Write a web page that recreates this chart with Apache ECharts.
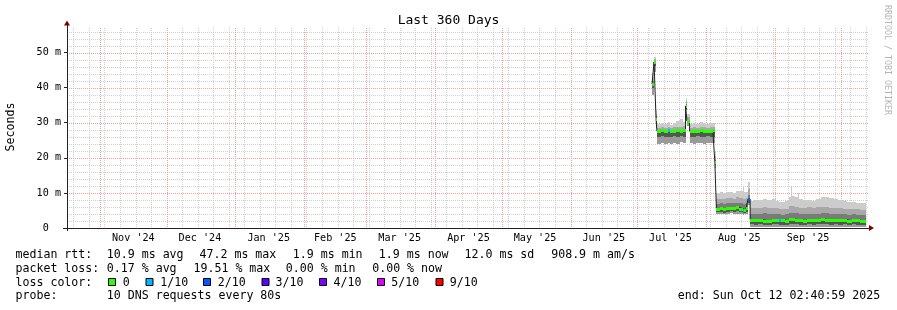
<!DOCTYPE html>
<html><head><meta charset="utf-8">
<script src="https://cdn.jsdelivr.net/npm/echarts@6/dist/echarts.min.js"></script>
<style>html,body{margin:0;padding:0;background:#fff}#c{width:897px;height:310px}</style>
</head><body><div id="c"></div>
<script>
const DAY = 86400000;
const START = Date.UTC(2024, 9, 17, 2, 40, 59);
const END = Date.UTC(2025, 9, 12, 2, 40, 59);
const SPAN = (END - START) / DAY; // 360 days
const YMAX = 57;

const monthStarts = ['2024-11-01','2024-12-01','2025-01-01','2025-02-01','2025-03-01','2025-04-01','2025-05-01','2025-06-01','2025-07-01','2025-08-01','2025-09-01','2025-10-01'];
const monthLabelDates = ['2024-11-16','2024-12-16','2025-01-16','2025-02-15','2025-03-16','2025-04-16','2025-05-16','2025-06-16','2025-07-16','2025-08-16','2025-09-16'];
const monthLabels = ["Nov '24","Dec '24","Jan '25","Feb '25","Mar '25","Apr '25","May '25","Jun '25","Jul '25","Aug '25","Sep '25"];
const firstSunday = '2024-10-20';
const yMajor = [10, 20, 30, 40, 50];

// sample start (days after START)
const sampleDay = [263.6,264.5,265.4,265.8,267.5,269.0,270.9,271.6,273.0,274.5,276.0,277.5,278.7,279.3,280.5,282.0,283.5,285.0,286.5,288.0,289.5,291.0,291.9,292.6,294.0,295.5,297.0,298.5,300.0,301.5,303.0,304.4,305.2,306.0,306.8,307.8,309.5,311.5,313.5,315.5,317.5,319.5,320.6,321.5,323.5,325.5,326.1,326.6,328.0,329.2,329.7,331.5,333.5,335.5,337.5,339.5,341.5,343.5,345.5,347.5,349.5,351.5,353.5,355.5,357.5,359.0];
// median rtt (ms)
const medianRtt = [41.0,47.3,31.2,27.6,27.8,27.7,28.0,27.6,27.7,27.8,27.6,27.9,34.8,30.5,27.6,27.7,27.6,27.8,27.7,27.6,27.7,27.8,18.8,5.4,5.6,5.3,5.7,5.8,5.6,5.9,5.5,5.0,5.1,5.7,8.2,2.4,2.2,2.3,2.1,2.0,2.4,2.3,2.2,2.2,2.1,2.6,2.6,2.5,2.4,2.3,2.2,2.1,2.3,2.2,2.4,2.5,2.3,2.2,2.4,2.2,2.3,2.1,2.3,2.2,2.0,1.9];
// loss level index (0 -> 0, 1 -> 1/10, 2 -> 2/10 ...)
const lossLevel = [0,0,0,0,0,0,1,0,0,0,0,0,0,0,0,0,0,0,0,0,0,0,0,0,0,0,0,0,0,0,0,1,0,0,2,0,0,0,0,0,0,0,1,0,0,0,0,0,0,0,0,0,0,0,0,0,0,0,0,0,0,0,0,0,0,0];
// smoke levels (ms)
const smokeLo  = [37.8,44.5,28.5,24.0,24.2,23.9,24.1,24.0,24.3,24.0,24.4,24.2,33.5,29.0,24.1,24.0,24.2,24.1,24.0,24.3,24.1,24.2,17.0,3.9,4.0,3.9,4.1,4.2,4.0,4.1,4.0,3.8,3.9,4.1,6.5,0.4,0.3,0.3,0.3,0.2,0.3,0.3,0.3,0.3,0.3,0.4,0.4,0.4,0.3,0.3,0.3,0.3,0.3,0.3,0.3,0.4,0.3,0.3,0.3,0.3,0.3,0.3,0.3,0.3,0.2,0.2];
const smokeLo2 = [39.8,46.2,30.0,26.0,26.1,25.9,26.0,25.8,26.1,26.0,26.2,26.0,34.0,29.8,26.0,25.9,26.1,26.0,25.9,26.1,26.0,26.0,18.0,4.5,4.6,4.4,4.7,4.8,4.6,4.8,4.5,4.3,4.4,4.7,7.2,1.0,0.9,1.0,0.9,0.8,1.0,1.0,0.9,0.9,0.9,1.1,1.1,1.1,1.0,1.0,0.9,0.9,1.0,0.9,1.0,1.1,1.0,0.9,1.0,0.9,1.0,0.9,1.0,0.9,0.8,0.8];
const smokeHi1 = [41.8,47.7,31.8,27.9,28.0,27.9,28.2,27.9,27.9,28.0,27.9,28.1,35.4,30.9,27.9,28.0,27.9,28.1,28.0,27.9,28.0,28.1,19.5,6.8,7.0,6.9,7.1,7.2,7.0,7.2,7.0,6.8,6.9,7.1,9.5,4.0,4.1,4.0,4.2,3.9,4.1,4.0,3.9,3.8,3.9,4.3,4.4,4.3,4.2,4.2,4.0,4.0,4.1,4.0,4.1,4.3,4.2,4.0,4.1,4.0,3.9,3.8,3.9,3.8,3.7,3.6];
const smokeHi2 = [42.8,48.2,32.5,28.6,28.8,28.6,28.9,28.5,28.7,28.8,28.9,29.0,36.2,31.6,28.6,28.8,28.6,28.9,28.7,28.6,28.8,28.9,20.6,8.3,8.4,8.2,8.5,8.6,8.4,8.7,8.5,8.3,8.4,8.6,11.0,5.6,5.8,5.7,5.9,5.6,5.8,5.6,5.5,5.4,5.5,6.2,6.4,6.2,6.0,6.1,5.8,5.8,5.9,5.7,5.9,6.1,6.0,5.8,5.7,5.6,5.5,5.4,5.4,5.3,5.2,5.2];
const smokeHi3 = [44.2,48.8,33.5,29.5,30.0,29.6,30.2,29.4,29.8,30.4,31.0,30.2,37.0,32.5,29.5,29.9,29.6,30.3,29.8,29.7,30.0,29.8,21.7,9.9,10.2,10.0,10.4,10.3,10.1,10.5,10.6,11.8,10.2,10.4,13.2,7.8,8.0,7.9,8.2,8.1,8.3,7.7,7.5,7.4,7.6,8.8,12.1,9.0,8.9,9.9,8.3,8.0,8.1,7.8,8.3,8.7,8.8,8.6,8.4,8.0,7.7,7.5,7.4,7.2,7.1,7.0];

const lossColors = ['#26ff00','#00b8ff','#0059ff','#5e00ff','#7e00ff','#dd00ff','#ff0000'];
const lossNames = ['0','1/10','2/10','3/10','4/10','5/10','9/10'];
const smokeColors = ['#9a9a9a','#555555','#7a7a7a','#a8a8a8','#cccccc'];

const statsRtt = ['median rtt:','10.9 ms avg','47.2 ms max','1.9 ms min','1.9 ms now','12.0 ms sd','908.9 m am/s'];
const statsLoss = ['packet loss:','0.17 % avg','19.51 % max','0.00 % min','0.00 % now'];
const probeText = ['probe:','10 DNS requests every 80s'];
const endText = 'end: Sun Oct 12 02:40:59 2025';

const FONT = '"DejaVu Sans Mono", monospace';
const dayOf = s => (Date.parse(s + 'T00:00:00Z') - START) / DAY;

const items = sampleDay.map((d, i) => [d, i + 1 < sampleDay.length ? sampleDay[i + 1] : SPAN,
  smokeLo[i], smokeLo2[i], medianRtt[i], smokeHi1[i], smokeHi2[i], smokeHi3[i], lossLevel[i]]);
const medianLine = sampleDay.map((d, i) => [d, medianRtt[i]]);
medianLine.push([SPAN, medianRtt[medianRtt.length - 1]]);

const weeks = [];
for (let d = dayOf(firstSunday); d <= SPAN; d += 7) weeks.push(d);
const months = monthStarts.map(dayOf);
const labelDays = monthLabelDates.map(dayOf);
const yMinor = [];
for (let v = 2; v < YMAX; v += 2) if (v % 10) yMinor.push(v);

const chart = echarts.init(document.getElementById('c'), null, {renderer: 'canvas'});

function vLine(color) {
  return function (params, api) {
    const t = api.value(0);
    const a = api.coord([t, YMAX]), b = api.coord([t, 0]);
    const x = Math.round(a[0]) + 0.5;
    return {type: 'line', shape: {x1: x, y1: Math.round(a[1]), x2: x, y2: Math.round(b[1])},
      style: {stroke: color, lineWidth: 1, lineDash: [1, 1]}};
  };
}
function hLine(color) {
  return function (params, api) {
    const v = api.value(1);
    const a = api.coord([0, v]), b = api.coord([SPAN, v]);
    const y = Math.round(a[1]) + 0.5;
    return {type: 'line', shape: {x1: Math.round(a[0]) + 2, y1: y, x2: Math.round(b[0]) + 2, y2: y},
      style: {stroke: color, lineWidth: 1, lineDash: [1, 1]}};
  };
}

const graphics = [];
function txt(x, y, s, size) {
  graphics.push({type: 'text', x: x, y: y, silent: true,
    style: {text: s, font: size + 'px ' + FONT, fill: '#000', textAlign: 'left', textVerticalAlign: 'middle'}});
}
const rttX = [15.5, 106.8, 199.5, 292.8, 378.8, 464.5, 551.2];
statsRtt.forEach((s, i) => txt(rttX[i], 254.5, s, 11.6));
const lossX = [15.5, 106.8, 193.5, 285.8, 372.2];
statsLoss.forEach((s, i) => txt(lossX[i], 268.5, s, 11.6));
txt(15.5, 282.5, 'loss color:', 11.6);
const boxX = [108.5, 146, 203.5, 262, 319.5, 377.5, 436];
const boxLabelX = [122.8, 160.2, 217.8, 275.5, 333.5, 391.2, 449.8];
lossNames.forEach((n, i) => {
  graphics.push({type: 'rect', silent: true, shape: {x: boxX[i], y: 278.5, width: 7, height: 7},
    style: {fill: lossColors[i], stroke: '#000', lineWidth: 1}});
  txt(boxLabelX[i], 282.5, n, 11.6);
});
txt(15.5, 296.2, probeText[0], 11.6);
txt(106.8, 296.2, probeText[1], 11.6);
txt(677.8, 296.2, endText, 11.6);
graphics.push({type: 'text', x: 11, y: 127, rotation: Math.PI / 2, silent: true,
  style: {text: 'Seconds', font: '11.6px ' + FONT, fill: '#000', textAlign: 'center', textVerticalAlign: 'middle'}});
graphics.push({type: 'text', x: 887.5, y: 60, rotation: -Math.PI / 2, silent: true,
  style: {text: 'RRDTOOL / TOBI OETIKER', font: '8.3px ' + FONT, fill: '#b4b4b4', textAlign: 'center', textVerticalAlign: 'middle'}});
graphics.push({type: 'polygon', silent: true, shape: {points: [[64, 25.5], [70, 25.5], [67, 20.5]]}, style: {fill: '#800000'}});
graphics.push({type: 'polygon', silent: true, shape: {points: [[869, 225], [869, 231], [874, 228]]}, style: {fill: '#800000'}});
graphics.push({type: 'line', silent: true, shape: {x1: 866, y1: 228.5, x2: 869, y2: 228.5}, style: {stroke: '#212121', lineWidth: 1}});
graphics.push({type: 'line', silent: true, shape: {x1: 63, y1: 228.5, x2: 67, y2: 228.5}, style: {stroke: '#212121', lineWidth: 1}});
graphics.push({type: 'line', silent: true, shape: {x1: 67.5, y1: 25, x2: 67.5, y2: 28}, style: {stroke: '#212121', lineWidth: 1}});
graphics.push({type: 'line', silent: true, shape: {x1: 67.5, y1: 228, x2: 67.5, y2: 231}, style: {stroke: '#212121', lineWidth: 1}});

chart.setOption({
  animation: false,
  backgroundColor: '#ffffff',
  title: {text: 'Last 360 Days', left: 'center', top: 9,
    textStyle: {fontFamily: FONT, fontSize: 13, fontWeight: 'normal', color: '#000'}},
  grid: {left: 67, top: 28, width: 799, height: 200, containLabel: false},
  xAxis: {type: 'value', min: 0, max: SPAN,
    axisLine: {show: true, lineStyle: {color: '#212121', width: 1}},
    axisTick: {show: false}, splitLine: {show: false},
    axisLabel: {customValues: labelDays, margin: 5, fontFamily: FONT, fontSize: 10.15, color: '#000',
      formatter: function (v) {
        let best = 0;
        labelDays.forEach((t, i) => { if (Math.abs(t - v) < Math.abs(labelDays[best] - v)) best = i; });
        return monthLabels[best];
      }}},
  yAxis: {type: 'value', min: 0, max: YMAX, interval: 10,
    axisLine: {show: true, lineStyle: {color: '#212121', width: 1}},
    axisTick: {show: true, length: 3, lineStyle: {color: '#212121'}},
    splitLine: {show: false},
    axisLabel: {margin: 6, fontFamily: FONT, fontSize: 10.15, color: '#000', showMaxLabel: false,
      formatter: v => v === 0 ? '0  ' : v + ' m'}},
  graphic: graphics,
  series: [
    {type: 'custom', z: 1, silent: true, data: weeks.map(t => [t, 0]), renderItem: vLine('#d0d0d0'), encode: {x: 0, y: 1}},
    {type: 'custom', z: 1, silent: true, data: yMinor.map(v => [0, v]), renderItem: hLine('#d0d0d0'), encode: {x: 0, y: 1}},
    {type: 'custom', z: 1, silent: true, data: months.map(t => [t, 0]), renderItem: vLine('#eda2a2'), encode: {x: 0, y: 1}},
    {type: 'custom', z: 1, silent: true, data: yMajor.map(v => [0, v]), renderItem: hLine('#eda2a2'), encode: {x: 0, y: 1}},
    {type: 'custom', z: 3, silent: true, data: items, encode: {x: [0, 1], y: [2, 3, 4, 5, 6, 7]},
      renderItem: function (params, api) {
        const t0 = api.value(0), t1 = api.value(1);
        const lv = [api.value(2), api.value(3), api.value(4), api.value(5), api.value(6), api.value(7)];
        const x0 = Math.round(api.coord([t0, 0])[0]), x1 = Math.round(api.coord([t1, 0])[0]);
        const ch = [];
        for (let k = 0; k < 5; k++) {
          const ya = Math.round(api.coord([t0, lv[k]])[1]), yb = Math.round(api.coord([t0, lv[k + 1]])[1]);
          if (ya > yb) ch.push({type: 'rect', shape: {x: x0, y: yb, width: Math.max(1, x1 - x0), height: ya - yb}, style: {fill: smokeColors[k]}});
        }
        return {type: 'group', children: ch};
      }},
    {type: 'line', z: 4, silent: true, data: medianLine, step: 'end', symbol: 'none',
      lineStyle: {color: '#202020', width: 1}},
    {type: 'custom', z: 5, silent: true, data: items, encode: {x: [0, 1], y: 4},
      renderItem: function (params, api) {
        const t0 = api.value(0), t1 = api.value(1), m = api.value(4), lo = api.value(8);
        const p0 = api.coord([t0, m]), p1 = api.coord([t1, m]);
        const x0 = Math.round(p0[0]), x1 = Math.round(p1[0]);
        return {type: 'rect', shape: {x: x0, y: Math.round(p0[1]) - 1, width: Math.max(1, x1 - x0), height: 3},
          style: {fill: lossColors[lo]}};
      }}
  ]
});
</script></body></html>
